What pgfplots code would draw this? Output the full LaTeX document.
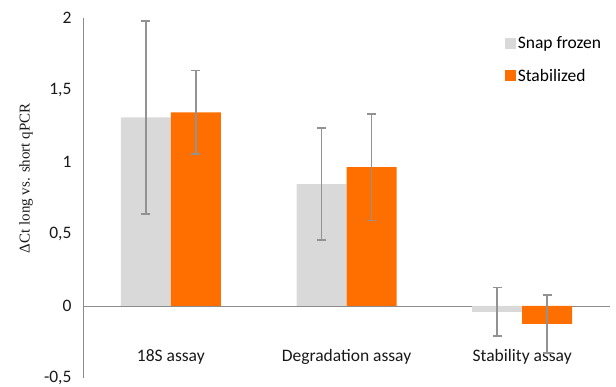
\documentclass[border=0pt]{standalone}
\usepackage{fontspec}
\setmainfont{Carlito}
\newfontfamily\serif{Liberation Serif}
\usepackage{pgfplots}
\pgfplotsset{compat=1.18}
\definecolor{snap}{HTML}{D9D9D9}
\definecolor{stab}{HTML}{FF6F00}
\definecolor{ax}{HTML}{8C8C8C}
\definecolor{eb}{HTML}{929292}
\pgfplotsset{errstyle/.style={error bars/.cd, y dir=both, y explicit,
  error bar style={eb, line width=1.5bp},
  error mark options={rotate=90, mark size=4.5bp, eb, line width=1.5bp}}}
\begin{document}
\begin{tikzpicture}
\begin{axis}[
  set layers,
  scale only axis, width=527bp, height=360bp,
  at={(0,0)}, anchor=south west,
  xmin=-0.5, xmax=2.5, ymin=-0.5, ymax=2,
  ybar, bar width=50bp,
  axis y line*=left, axis x line*=bottom,
  x axis line style={draw=none},
  y axis line style={ax, line width=0.8pt},
  major tick length=0pt,
  xtick={0,1,2}, xticklabels={18S assay, Degradation assay, Stability assay},
  ytick={-0.5,0,0.5,1,1.5,2},
  extra y ticks={0}, extra y tick labels={},
  extra y tick style={grid=major, major grid style={ax, line width=0.8pt}},
  /pgf/number format/assume math mode=true,
  /pgf/number format/use comma,
  ticklabel style={font=\fontsize{17.5bp}{19bp}\selectfont, text=black!90},
  yticklabel style={xshift=-8bp},
  xticklabel style={anchor=center, yshift=21bp},
  ylabel={\serif\fontsize{15bp}{17bp}\selectfont ΔCt long vs. short qPCR},
  ylabel style={at={(axis description cs:-0.108,0.555)}, anchor=center, text=black!90},
  legend style={draw=none, fill=none, at={(axis description cs:0.80,0.955)}, anchor=north west,
    font=\fontsize{17.5bp}{19bp}\selectfont, row sep=15bp, inner sep=0pt, cells={anchor=west}},
  legend image code/.code={\fill[#1] (0bp,-5.5bp) rectangle (11bp,5.5bp);},
  legend cell align=left,
]
\addplot[fill=snap, draw=none, bar shift=-25bp]
  coordinates {(0,1.31) (1,0.847) (2,-0.04)};
\addlegendentry{Snap frozen}
\addplot[fill=stab, draw=none, bar shift=25bp]
  coordinates {(0,1.345) (1,0.965) (2,-0.125)};
\addlegendentry{Stabilized}
\addplot[on layer=axis foreground, fill=none, draw=none, bar shift=-25bp, forget plot, errstyle]
  coordinates {(0,1.31) +- (0,0.67) (1,0.847) +- (0,0.39) (2,-0.04) +- (0,0.17)};
\addplot[on layer=axis foreground, fill=none, draw=none, bar shift=25bp, forget plot, errstyle]
  coordinates {(0,1.345) +- (0,0.29) (1,0.965) +- (0,0.37) (2,-0.125) +- (0,0.2)};
\end{axis}
\pgfresetboundingbox
\path (-83bp,-9bp) rectangle (533bp,378bp);
\end{tikzpicture}
\end{document}
